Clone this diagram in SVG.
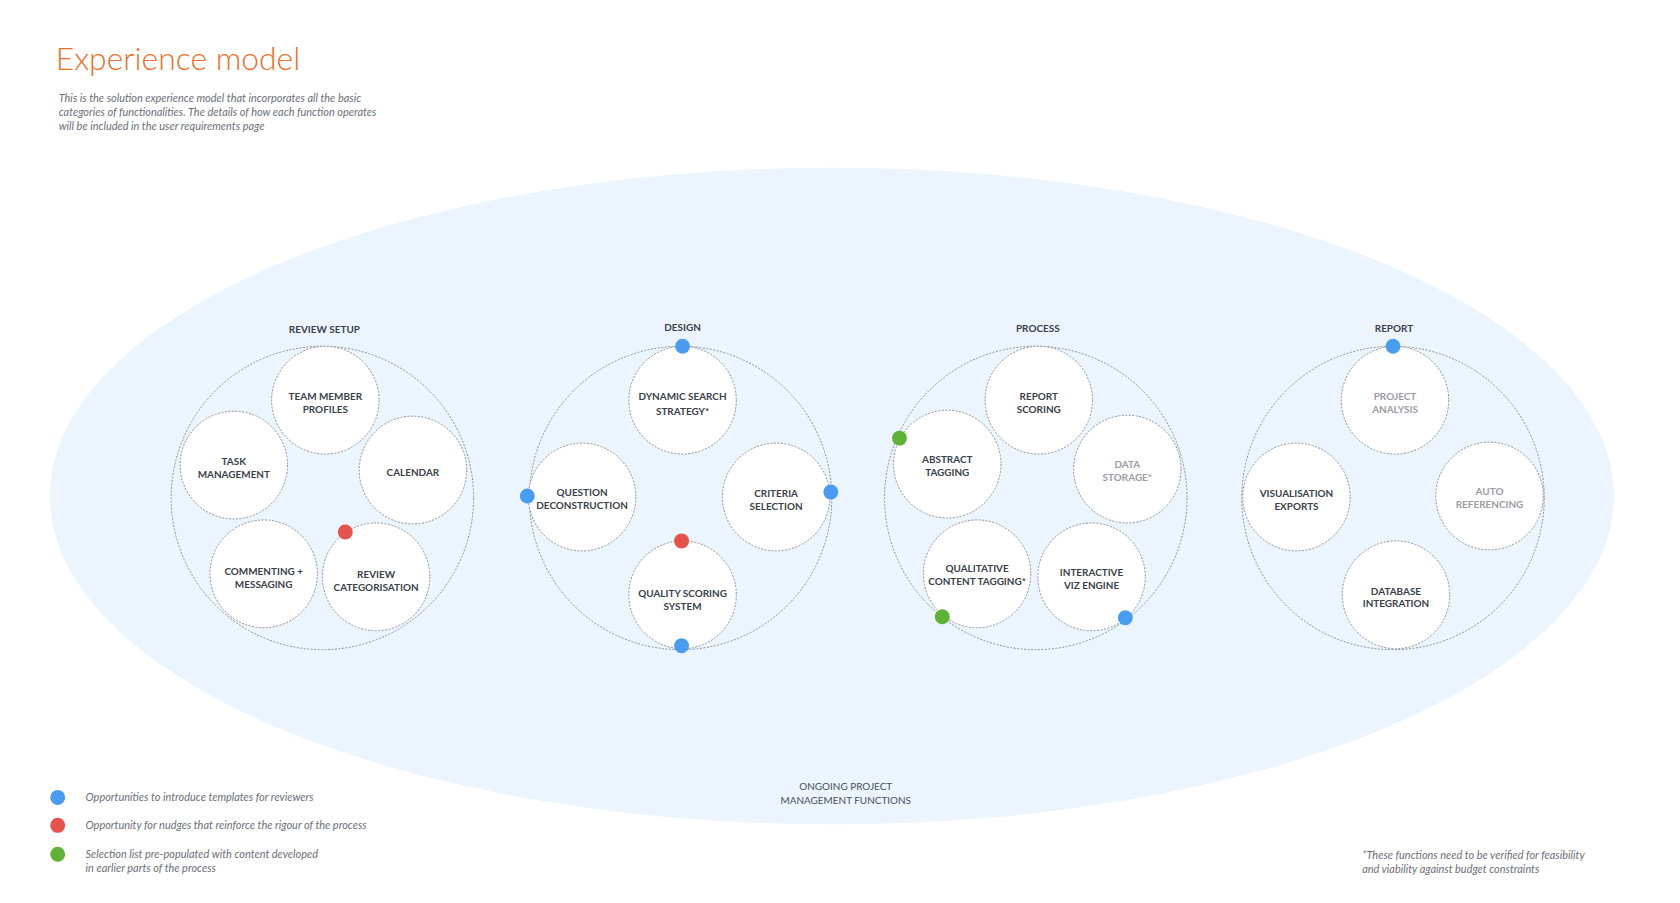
<svg xmlns="http://www.w3.org/2000/svg" width="1680" height="903" viewBox="0 0 1680 903">
<style>
text{font-family:Lato,"Open Sans","Liberation Sans",sans-serif}
.grp{fill:none;stroke:#8a8f99;stroke-width:1;stroke-dasharray:2 1.5}
.node circle{fill:#fff;stroke:#8a8f99;stroke-width:1;stroke-dasharray:2 1.5}
.lbl{font-size:10px;font-weight:bold;fill:#3a3f4a;text-anchor:middle}
.grey{fill:#9a9ca3}
.hd{font-size:10px;font-weight:bold;fill:#3a3f4a;text-anchor:middle}
.it{font-size:11px;font-style:italic;fill:#6b6f78}
.b{fill:#4a9cf0}.r{fill:#e5534b}.g{fill:#5fb236}
</style>
<rect width="1680" height="903" fill="#fff"/>
<g transform="scale(0.995,0.998)">
<ellipse cx="836" cy="497" rx="786" ry="329" fill="#ecf4fd"/>
<text x="56" y="70" font-size="32" font-weight="300" fill="#e8702a">Experience model</text>
<text class="it" x="59" y="102">This is the solution experience model that incorporates all the basic</text>
<text class="it" x="59" y="116">categories of functionalities. The details of how each function operates</text>
<text class="it" x="59" y="130">will be included in the user requirements page</text>
<g id="headers">
<text class="hd" x="326" y="334">REVIEW SETUP</text>
<text class="hd" x="686" y="332">DESIGN</text>
<text class="hd" x="1043" y="333">PROCESS</text>
<text class="hd" x="1401" y="333">REPORT</text>
</g>
<g id="groups">
<circle class="grp" cx="324" cy="499" r="152"/>
<circle class="grp" cx="684" cy="499" r="152"/>
<circle class="grp" cx="1041" cy="499" r="152"/>
<circle class="grp" cx="1400" cy="499" r="152"/>
</g>
<g id="n1" class="node"><circle cx="327" cy="401" r="54"/><text class="lbl" x="327" y="401">TEAM MEMBER</text><text class="lbl" x="327" y="414">PROFILES</text></g>
<g id="n2" class="node"><circle cx="235" cy="466" r="54"/><text class="lbl" x="235" y="466">TASK</text><text class="lbl" x="235" y="479">MANAGEMENT</text></g>
<g id="n3" class="node"><circle cx="415" cy="471" r="54"/><text class="lbl" x="415" y="477">CALENDAR</text></g>
<g id="n4" class="node"><circle cx="265" cy="575" r="54"/><text class="lbl" x="265" y="576">COMMENTING +</text><text class="lbl" x="265" y="589">MESSAGING</text></g>
<g id="n5" class="node"><circle cx="378" cy="578" r="54"/><text class="lbl" x="378" y="579">REVIEW</text><text class="lbl" x="378" y="592">CATEGORISATION</text></g>
<g id="n6" class="node"><circle cx="686" cy="401" r="54"/><text class="lbl" x="686" y="401">DYNAMIC SEARCH</text><text class="lbl" x="686" y="416">STRATEGY*</text></g>
<g id="n7" class="node"><circle cx="585" cy="498" r="54"/><text class="lbl" x="585" y="497">QUESTION</text><text class="lbl" x="585" y="510">DECONSTRUCTION</text></g>
<g id="n8" class="node"><circle cx="780" cy="498" r="54"/><text class="lbl" x="780" y="498">CRITERIA</text><text class="lbl" x="780" y="511">SELECTION</text></g>
<g id="n9" class="node"><circle cx="686" cy="596" r="54"/><text class="lbl" x="686" y="598">QUALITY SCORING</text><text class="lbl" x="686" y="611">SYSTEM</text></g>
<g id="n10" class="node"><circle cx="1044" cy="401" r="54"/><text class="lbl" x="1044" y="401">REPORT</text><text class="lbl" x="1044" y="414">SCORING</text></g>
<g id="n11" class="node"><circle cx="952" cy="465" r="54"/><text class="lbl" x="952" y="464">ABSTRACT</text><text class="lbl" x="952" y="477">TAGGING</text></g>
<g id="n12" class="node"><circle cx="1133" cy="470" r="54"/><text class="lbl grey" x="1133" y="469">DATA</text><text class="lbl grey" x="1133" y="482">STORAGE*</text></g>
<g id="n13" class="node"><circle cx="982" cy="575" r="54"/><text class="lbl" x="982" y="573">QUALITATIVE</text><text class="lbl" x="982" y="586">CONTENT TAGGING*</text></g>
<g id="n14" class="node"><circle cx="1097" cy="578" r="54"/><text class="lbl" x="1097" y="577">INTERACTIVE</text><text class="lbl" x="1097" y="590">VIZ ENGINE</text></g>
<g id="n15" class="node"><circle cx="1402" cy="401" r="54"/><text class="lbl grey" x="1402" y="401">PROJECT</text><text class="lbl grey" x="1402" y="414">ANALYSIS</text></g>
<g id="n16" class="node"><circle cx="1303" cy="498" r="54"/><text class="lbl" x="1303" y="498">VISUALISATION</text><text class="lbl" x="1303" y="511">EXPORTS</text></g>
<g id="n17" class="node"><circle cx="1497" cy="497" r="54"/><text class="lbl grey" x="1497" y="496">AUTO</text><text class="lbl grey" x="1497" y="509">REFERENCING</text></g>
<g id="n18" class="node"><circle cx="1403" cy="596" r="54"/><text class="lbl" x="1403" y="596">DATABASE</text><text class="lbl" x="1403" y="608">INTEGRATION</text></g>
<g id="dots">
<circle class="r" cx="347" cy="533" r="7.5"/>
<circle class="b" cx="686" cy="347" r="7.5"/>
<circle class="b" cx="530" cy="497" r="7.5"/>
<circle class="b" cx="835" cy="493" r="7.5"/>
<circle class="b" cx="685" cy="647" r="7.5"/>
<circle class="r" cx="685" cy="542" r="7.5"/>
<circle class="g" cx="904" cy="439" r="7.5"/>
<circle class="g" cx="947" cy="618" r="7.5"/>
<circle class="b" cx="1131" cy="619" r="7.5"/>
<circle class="b" cx="1400" cy="347" r="7.5"/>
</g>
<text x="850" y="792" font-size="10" fill="#4a4f58" text-anchor="middle">ONGOING PROJECT</text>
<text x="850" y="806" font-size="10" fill="#4a4f58" text-anchor="middle">MANAGEMENT FUNCTIONS</text>
<g id="legend">
<circle class="b" cx="58" cy="799" r="7.5"/><text class="it" x="86" y="803">Opportunities to introduce templates for reviewers</text>
<circle class="r" cx="58" cy="827" r="7.5"/><text class="it" x="86" y="831">Opportunity for nudges that reinforce the rigour of the process</text>
<circle class="g" cx="58" cy="856" r="7.5"/><text class="it" x="86" y="860">Selection list pre-populated with content developed</text><text class="it" x="86" y="874">in earlier parts of the process</text>
</g>
<text class="it" x="1369" y="861">*These functions need to be verified for feasibility</text>
<text class="it" x="1369" y="875">and viability against budget constraints</text>
</g>
</svg>
